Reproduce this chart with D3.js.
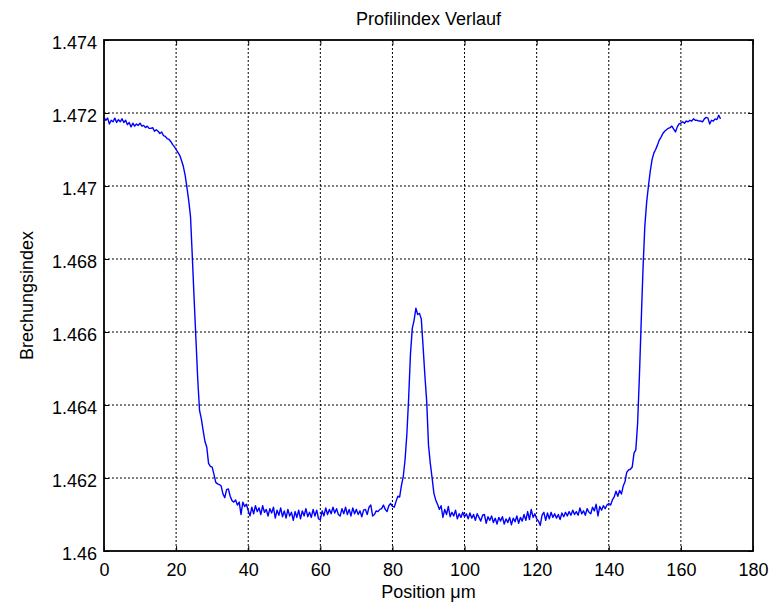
<!DOCTYPE html>
<html>
<head>
<meta charset="utf-8">
<script src="https://cdn.jsdelivr.net/npm/d3@7"></script>
<style>
	body { margin: 0; background: white; }
	svg { display: block; font-family: "Liberation Sans", Arial, sans-serif; }
</style>
</head>
<body>
<svg id="chart" width="782" height="604"></svg>
<script>

let title = 'Profilindex Verlauf';
let xLabel = 'Position μm';
let yLabel = 'Brechungsindex';

let xTicks = [0, 20, 40, 60, 80, 100, 120, 140, 160, 180];
let yTicks = [1.46, 1.462, 1.464, 1.466, 1.468, 1.47, 1.472, 1.474];
let yTickLabels = ['1.46', '1.462', '1.464', '1.466', '1.468', '1.47', '1.472', '1.474'];

// measured profile, one sample every 0.5 um starting at 0
let positionStart = 0;
let positionStep = 0.5;
let refractiveIndex = [
	1.47188, 1.47180, 1.47186, 1.47170, 1.47180, 1.47176, 1.47186, 1.47174, 1.47182, 1.47176,
	1.47184, 1.47174, 1.47180, 1.47168, 1.47174, 1.47162, 1.47172, 1.47164, 1.47170, 1.47166,
	1.47172, 1.47164, 1.47166, 1.47160, 1.47164, 1.47158, 1.47158, 1.47160, 1.47150, 1.47154,
	1.47150, 1.47144, 1.47148, 1.47138, 1.47136, 1.47130, 1.47128, 1.47122, 1.47114, 1.47108,
	1.47100, 1.47092, 1.47084, 1.47070, 1.47054, 1.47030, 1.46996, 1.46960, 1.46915, 1.46805,
	1.46690, 1.46580, 1.46470, 1.46385, 1.46362, 1.46330, 1.46300, 1.46285, 1.46240, 1.46232,
	1.46230, 1.46210, 1.46188, 1.46184, 1.46182, 1.46178, 1.46156, 1.46146, 1.46168, 1.46170,
	1.46150, 1.46138, 1.46134, 1.46140, 1.46126, 1.46134, 1.46100, 1.46134, 1.46122, 1.46128,
	1.46110, 1.46096, 1.46120, 1.46102, 1.46124, 1.46108, 1.46118, 1.46100, 1.46124, 1.46106,
	1.46114, 1.46096, 1.46116, 1.46104, 1.46120, 1.46090, 1.46112, 1.46098, 1.46118, 1.46094,
	1.46110, 1.46090, 1.46114, 1.46096, 1.46106, 1.46084, 1.46108, 1.46092, 1.46112, 1.46088,
	1.46110, 1.46096, 1.46116, 1.46094, 1.46106, 1.46092, 1.46114, 1.46096, 1.46112, 1.46088,
	1.46086, 1.46110, 1.46096, 1.46118, 1.46100, 1.46114, 1.46102, 1.46120, 1.46104, 1.46116,
	1.46100, 1.46096, 1.46116, 1.46102, 1.46120, 1.46100, 1.46114, 1.46096, 1.46118, 1.46102,
	1.46114, 1.46100, 1.46110, 1.46094, 1.46112, 1.46114, 1.46100, 1.46120, 1.46126, 1.46096,
	1.46100, 1.46110, 1.46108, 1.46114, 1.46116, 1.46126, 1.46114, 1.46108, 1.46124, 1.46130,
	1.46122, 1.46120, 1.46136, 1.46150, 1.46148, 1.46180, 1.46204, 1.46250, 1.46320, 1.46420,
	1.46540, 1.46610, 1.46632, 1.46665, 1.46648, 1.46651, 1.46636, 1.46560, 1.46480, 1.46410,
	1.46290, 1.46240, 1.46200, 1.46158, 1.46140, 1.46128, 1.46114, 1.46124, 1.46092, 1.46114,
	1.46100, 1.46122, 1.46094, 1.46106, 1.46096, 1.46112, 1.46088, 1.46102, 1.46092, 1.46106,
	1.46094, 1.46102, 1.46088, 1.46104, 1.46090, 1.46100, 1.46084, 1.46102, 1.46092, 1.46082,
	1.46098, 1.46100, 1.46076, 1.46094, 1.46084, 1.46096, 1.46078, 1.46090, 1.46074, 1.46092,
	1.46082, 1.46094, 1.46074, 1.46088, 1.46078, 1.46092, 1.46072, 1.46090, 1.46080, 1.46096,
	1.46076, 1.46092, 1.46082, 1.46100, 1.46084, 1.46108, 1.46086, 1.46114, 1.46092, 1.46102,
	1.46088, 1.46082, 1.46070, 1.46098, 1.46106, 1.46084, 1.46104, 1.46088, 1.46106, 1.46092,
	1.46102, 1.46090, 1.46100, 1.46086, 1.46104, 1.46094, 1.46106, 1.46096, 1.46108, 1.46098,
	1.46112, 1.46100, 1.46108, 1.46098, 1.46118, 1.46102, 1.46110, 1.46098, 1.46116, 1.46106,
	1.46102, 1.46120, 1.46110, 1.46128, 1.46096, 1.46122, 1.46112, 1.46124, 1.46116, 1.46126,
	1.46130, 1.46126, 1.46140, 1.46148, 1.46164, 1.46150, 1.46166, 1.46156, 1.46178, 1.46190,
	1.46216, 1.46222, 1.46224, 1.46230, 1.46268, 1.46277, 1.46350, 1.46480, 1.46630, 1.46775,
	1.46890, 1.46955, 1.47000, 1.47040, 1.47072, 1.47090, 1.47100, 1.47112, 1.47126, 1.47134,
	1.47144, 1.47150, 1.47154, 1.47158, 1.47160, 1.47164, 1.47156, 1.47148, 1.47162, 1.47170,
	1.47172, 1.47176, 1.47172, 1.47178, 1.47176, 1.47180, 1.47178, 1.47184, 1.47180, 1.47180,
	1.47178, 1.47178, 1.47176, 1.47184, 1.47188, 1.47186, 1.47170, 1.47180, 1.47178, 1.47184,
	1.47182, 1.47194, 1.47184
];

let positions = refractiveIndex.map((d, i) => positionStart + i * positionStep);

let margin = {top: 40, right: 29, bottom: 53, left: 104};
let width = 782 - margin.left - margin.right;
let height = 604 - margin.top - margin.bottom;

let x = d3.scaleLinear()
	.domain([xTicks[0], xTicks[xTicks.length - 1]])
	.range([0, width]);

let y = d3.scaleLinear()
	.domain([yTicks[0], yTicks[yTicks.length - 1]])
	.range([height, 0]);

let svg = d3.select('#chart');

svg.append('rect')
	.attr('width', 782)
	.attr('height', 604)
	.attr('fill', 'white');

let g = svg.append('g')
	.attr('transform', `translate(${margin.left},${margin.top})`);

// dotted grid
g.append('g')
	.selectAll('line')
	.data(xTicks.slice(1, -1))
	.join('line')
	.attr('x1', d => x(d))
	.attr('x2', d => x(d))
	.attr('y1', 0)
	.attr('y2', height)
	.attr('stroke', '#000')
	.attr('stroke-width', 1)
	.attr('stroke-dasharray', '2,2');

g.append('g')
	.selectAll('line')
	.data(yTicks.slice(1, -1))
	.join('line')
	.attr('x1', 0)
	.attr('x2', width)
	.attr('y1', d => y(d))
	.attr('y2', d => y(d))
	.attr('stroke', '#000')
	.attr('stroke-width', 1)
	.attr('stroke-dasharray', '2,2');

// the profile
let line = d3.line()
	.x((d, i) => x(positions[i]))
	.y(d => y(d));

g.append('path')
	.datum(refractiveIndex)
	.attr('d', line)
	.attr('fill', 'none')
	.attr('stroke', '#0000ff')
	.attr('stroke-width', 1.4)
	.attr('stroke-linejoin', 'round');

// axes, ticks pointing inwards like matlab
function styleAxis(sel) {
	sel.select('.domain').remove();
	sel.selectAll('.tick line').attr('stroke', '#000').attr('stroke-width', 1);
	sel.selectAll('.tick text')
		.attr('fill', '#000')
		.style('font-family', '"Liberation Sans", Arial, sans-serif')
		.style('font-size', '18px');
}

g.append('g')
	.attr('transform', `translate(0,${height})`)
	.call(d3.axisBottom(x).tickValues(xTicks).tickFormat(d3.format('d'))
		.tickSizeInner(-5).tickSizeOuter(0).tickPadding(12))
	.call(styleAxis);

g.append('g')
	.call(d3.axisTop(x).tickValues(xTicks).tickFormat('')
		.tickSizeInner(-5).tickSizeOuter(0))
	.call(styleAxis);

let yAxis = g.append('g')
	.call(d3.axisLeft(y).tickValues(yTicks).tickFormat((d, i) => yTickLabels[i])
		.tickSizeInner(-5).tickSizeOuter(0).tickPadding(7))
	.call(styleAxis);
yAxis.selectAll('.tick text').attr('dy', '0.45em');

g.append('g')
	.attr('transform', `translate(${width},0)`)
	.call(d3.axisRight(y).tickValues(yTicks).tickFormat('')
		.tickSizeInner(-5).tickSizeOuter(0))
	.call(styleAxis);

// box
g.append('rect')
	.attr('width', width)
	.attr('height', height)
	.attr('fill', 'none')
	.attr('stroke', '#000')
	.attr('stroke-width', 1.8);

// texts
svg.append('text')
	.attr('x', margin.left + width / 2)
	.attr('y', 25)
	.attr('text-anchor', 'middle')
	.style('font-size', '18px')
	.text(title);

svg.append('text')
	.attr('x', margin.left + width / 2)
	.attr('y', 598)
	.attr('text-anchor', 'middle')
	.style('font-size', '18px')
	.text(xLabel);

svg.append('text')
	.attr('transform', `translate(33,${margin.top + height / 2}) rotate(-90)`)
	.attr('text-anchor', 'middle')
	.style('font-size', '18px')
	.text(yLabel);

</script>
</body>
</html>
